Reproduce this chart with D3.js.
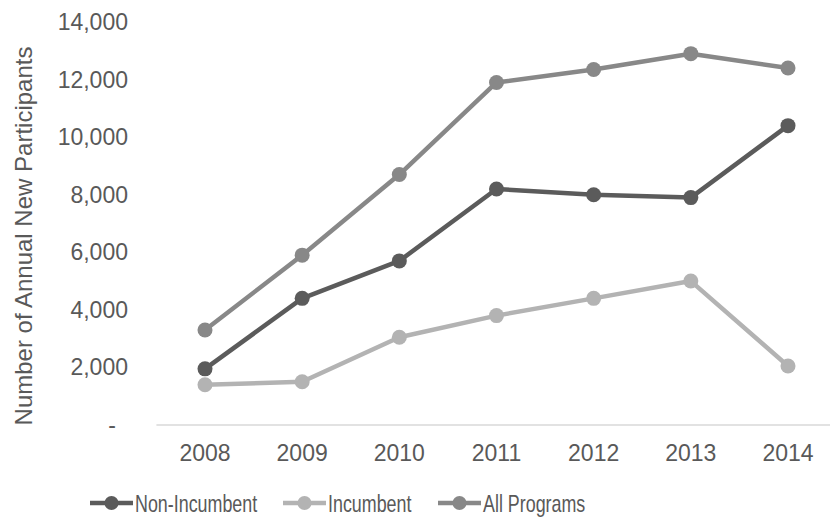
<!DOCTYPE html>
<html>
<head>
<meta charset="utf-8">
<script src="https://cdn.jsdelivr.net/npm/d3@7/dist/d3.min.js"></script>
<style>
  html, body { margin: 0; padding: 0; background: #fff; }
  svg { display: block; font-family: "Liberation Sans", Arial, sans-serif; }
</style>
</head>
<body>
<svg id="chart" width="830" height="518"></svg>
<script>
// Annual new participants by program type
const years = ["2008", "2009", "2010", "2011", "2012", "2013", "2014"];
const nonIncumbent = [1950, 4400, 5700, 8200, 8000, 7900, 10400];
const incumbent = [1400, 1500, 3050, 3800, 4400, 5000, 2050];
const allPrograms = [3300, 5900, 8700, 11900, 12350, 12900, 12400];
const yTicks = [0, 2000, 4000, 6000, 8000, 10000, 12000, 14000];

const seriesNames = ["Non-Incumbent", "Incumbent", "All Programs"];
const seriesColors = ["#5b5b5b", "#b3b3b3", "#888888"];
const seriesValues = [nonIncumbent, incumbent, allPrograms];

const svg = d3.select("#chart");
const textColor = "#595959";

const x = d3.scalePoint().domain(years).range([205, 788]);
const y = d3.scaleLinear().domain([0, 14000]).range([425, 22]);

// Y tick labels (zero shown as a dash)
const fmt = d3.format(",");
svg.append("g").selectAll("text").data(yTicks).join("text")
  .attr("x", d => d === 0 ? 112 : 128)
  .attr("y", d => y(d))
  .attr("dy", "0.35em")
  .attr("text-anchor", d => d === 0 ? "middle" : "end")
  .attr("font-size", 23)
  .attr("fill", textColor)
  .text(d => d === 0 ? "-" : fmt(d));

// Category axis line
svg.append("line")
  .attr("x1", x("2008") - x.step() / 2).attr("x2", x("2014") + x.step() / 2)
  .attr("y1", y(0)).attr("y2", y(0))
  .attr("stroke", "#d9d9d9").attr("stroke-width", 1.5);

// X tick labels
svg.append("g").selectAll("text").data(years).join("text")
  .attr("x", d => x(d))
  .attr("y", 461)
  .attr("text-anchor", "middle")
  .attr("font-size", 23)
  .attr("fill", textColor)
  .text(d => d);

// Y axis title
svg.append("text")
  .attr("transform", "translate(32,236) rotate(-90)")
  .attr("text-anchor", "middle")
  .attr("font-size", 24)
  .attr("fill", textColor)
  .text("Number of Annual New Participants");

// Lines and markers
const line = d3.line().x((d, i) => x(years[i])).y(d => y(d));
seriesValues.forEach((vals, s) => {
  const g = svg.append("g");
  g.append("path")
    .attr("d", line(vals))
    .attr("fill", "none")
    .attr("stroke", seriesColors[s])
    .attr("stroke-width", 4.5)
    .attr("stroke-linejoin", "round");
  g.selectAll("circle").data(vals).join("circle")
    .attr("cx", (d, i) => x(years[i]))
    .attr("cy", d => y(d))
    .attr("r", 7.5)
    .attr("fill", seriesColors[s]);
});

// Legend
const legendX = [90, 283, 438];
const legendY = 503;
const legend = svg.append("g");
seriesNames.forEach((name, s) => {
  const lx = legendX[s];
  legend.append("line")
    .attr("x1", lx).attr("x2", lx + 43)
    .attr("y1", legendY).attr("y2", legendY)
    .attr("stroke", seriesColors[s]).attr("stroke-width", 4.5);
  legend.append("circle")
    .attr("cx", lx + 21.5).attr("cy", legendY).attr("r", 7)
    .attr("fill", seriesColors[s]);
  legend.append("text")
    .attr("transform", `translate(${lx + 45},${legendY + 8.5}) scale(0.745,1)`)
    .attr("font-size", 24)
    .attr("fill", textColor)
    .text(name);
});
</script>
</body>
</html>
